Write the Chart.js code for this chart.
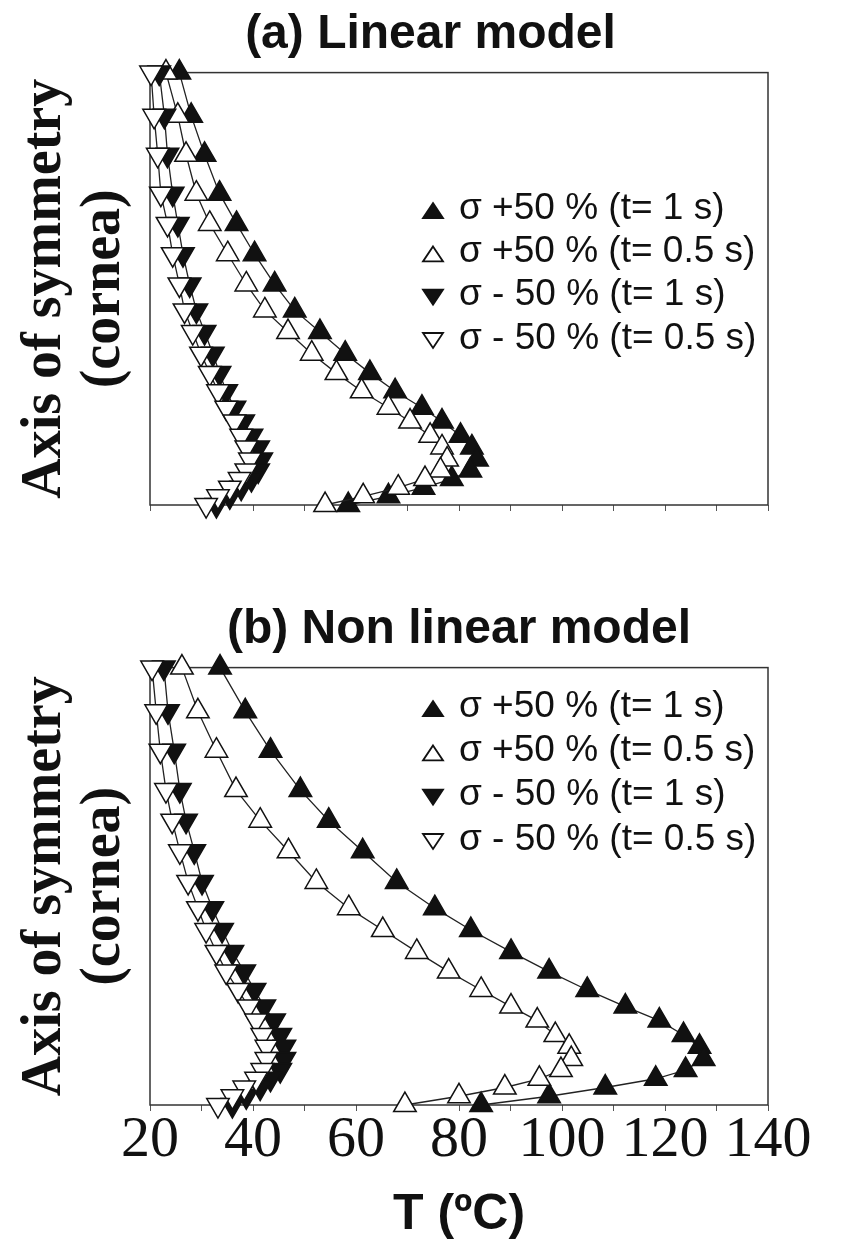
<!DOCTYPE html>
<html>
<head>
<meta charset="utf-8">
<script src="https://cdn.jsdelivr.net/npm/chart.js@4.4.0/dist/chart.umd.min.js"></script>
<style>
  body { margin: 0; background: #fff; }
  #wrap { position: relative; width: 861px; height: 1243px; }
  .panel { position: absolute; left: 0; width: 861px; }
</style>
</head>
<body>
<div id="wrap">
  <div class="panel" style="top:0;height:560px"><canvas id="chartA"></canvas></div>
  <div class="panel" style="top:560px;height:683px"><canvas id="chartB"></canvas></div>
</div>
<script>
// depth along the axis of symmetry (0 = cornea at the top, 1 = bottom of plot)
const depth = [0, 0.10, 0.19, 0.28, 0.35, 0.42, 0.49, 0.55, 0.60, 0.65, 0.695,
  0.737, 0.775, 0.807, 0.84, 0.867, 0.895, 0.92, 0.94, 0.96, 0.98, 1.0];

const seriesLabels = ['σ +50 % (t= 1 s)', 'σ +50 % (t= 0.5 s)', 'σ - 50 % (t= 1 s)', 'σ - 50 % (t= 0.5 s)'];

// (a) linear model, temperature in ºC
const linUp1 = [25.7, 28.0, 30.6, 33.5, 36.8, 40.3, 44.2, 48.1, 53.0, 57.9, 62.7, 67.6, 72.8, 76.7, 80.3, 82.5, 83.5, 82.2, 78.6, 73.1, 66.3, 58.5];
const linUp05 = [23.1, 25.4, 27.0, 29.0, 31.6, 35.1, 38.7, 42.3, 46.8, 51.4, 56.2, 61.1, 66.3, 70.5, 74.4, 76.7, 77.7, 76.4, 73.4, 68.2, 61.4, 54.0];
const linDn1 = [21.8, 22.8, 23.4, 24.4, 25.4, 26.4, 27.7, 29.0, 30.6, 32.2, 33.5, 34.8, 36.4, 38.1, 39.7, 41.0, 41.6, 41.0, 39.7, 37.7, 35.5, 32.9];
const linDn05 = [20.2, 20.8, 21.5, 22.1, 23.4, 24.4, 25.7, 26.7, 28.3, 29.9, 31.6, 33.2, 34.8, 36.4, 37.7, 38.7, 39.4, 38.7, 37.4, 35.5, 33.2, 30.9];

// (b) non linear model
const nlUp1 = [33.6, 38.5, 43.4, 49.2, 54.7, 61.3, 67.9, 75.3, 82.3, 90.1, 97.5, 104.9, 112.3, 118.9, 123.6, 126.7, 127.5, 124.0, 118.2, 108.4, 97.5, 84.3];
const nlUp05 = [26.2, 29.3, 32.9, 36.7, 41.4, 46.9, 52.3, 58.6, 65.2, 71.8, 78.0, 84.3, 90.1, 95.2, 98.7, 101.4, 101.8, 99.8, 95.6, 88.9, 80.0, 69.5];
const nlDn1 = [22.7, 23.5, 24.7, 25.8, 27.0, 28.6, 30.1, 32.1, 34.0, 36.0, 38.3, 40.3, 42.2, 44.1, 45.3, 46.1, 46.1, 45.3, 43.4, 41.4, 38.7, 36.0];
const nlDn05 = [20.4, 21.2, 22.0, 23.1, 24.3, 25.8, 27.4, 29.3, 30.9, 32.9, 34.8, 37.1, 39.1, 40.6, 41.8, 42.6, 42.6, 41.8, 40.6, 38.3, 36.0, 33.2];

const xMin = 20, xMax = 140, xStep = 10, xLabelStep = 20;

const markerFill = ['#111', '#fff', '#111', '#fff'];
const markerRot = [0, 0, 180, 180];

// box around the plot area
const framePlugin = {
  id: 'frame',
  beforeDatasetsDraw(chart) {
    const a = chart.chartArea, ctx = chart.ctx;
    ctx.save();
    ctx.strokeStyle = '#333';
    ctx.lineWidth = 1.5;
    ctx.strokeRect(a.left, a.top, a.right - a.left, a.bottom - a.top);
    ctx.restore();
  }
};

function legendMarker(ctx, x, y, down, fill) {
  const hw = 10, hh = 7.5, s = down ? -1 : 1;
  ctx.beginPath();
  ctx.moveTo(x, y - s * hh);
  ctx.lineTo(x + hw, y + s * hh);
  ctx.lineTo(x - hw, y + s * hh);
  ctx.closePath();
  ctx.fillStyle = fill;
  ctx.fill();
  ctx.lineWidth = 1.8;
  ctx.strokeStyle = '#111';
  ctx.stroke();
}

// legend drawn inside the plot area
const insideLegend = {
  id: 'insideLegend',
  afterDraw(chart, args, o) {
    const ctx = chart.ctx, a = chart.chartArea;
    ctx.save();
    ctx.font = '37px "Liberation Sans", Arial, sans-serif';
    ctx.textBaseline = 'middle';
    chart.data.datasets.forEach((ds, i) => {
      const y = a.top + o.top + i * o.gap;
      legendMarker(ctx, o.markerX, y + 2, markerRot[i] === 180, markerFill[i]);
      ctx.fillStyle = '#111';
      ctx.fillText(ds.label, o.textX, y);
    });
    ctx.restore();
  }
};

function makeDatasets(list) {
  return list.map((vals, i) => ({
    label: seriesLabels[i],
    data: vals.map((v, k) => ({ x: v, y: depth[k] })),
    showLine: true,
    borderColor: '#222',
    borderWidth: 1.3,
    pointStyle: 'triangle',
    rotation: markerRot[i],
    pointRadius: 13,
    pointBackgroundColor: markerFill[i],
    pointBorderColor: '#111',
    pointBorderWidth: 1.5,
    order: 4 - i,
    clip: false
  }));
}

function makeChart(id, data, cfg) {
  return new Chart(document.getElementById(id), {
    type: 'scatter',
    data: { datasets: makeDatasets(data) },
    plugins: [framePlugin, insideLegend],
    options: {
      responsive: true,
      maintainAspectRatio: false,
      animation: false,
      layout: { padding: 0 },
      plugins: {
        legend: { display: false },
        tooltip: { enabled: false },
        title: {
          display: true,
          text: cfg.title,
          fullSize: cfg.fullSize,
          color: '#111',
          font: { family: '"Liberation Sans", Arial, sans-serif', weight: 'bold', size: 48, lineHeight: 1.2 },
          padding: cfg.titlePad
        },
        insideLegend: cfg.legend
      },
      scales: {
        x: {
          type: 'linear',
          min: xMin,
          max: xMax,
          border: { display: false },
          grid: { drawOnChartArea: false, drawTicks: true, tickLength: 6, color: '#555' },
          ticks: {
            display: cfg.showTicks,
            stepSize: xStep,
            autoSkip: false,
            maxRotation: 0,
            minRotation: 0,
            padding: 1,
            color: '#111',
            font: { family: '"Liberation Serif", "Times New Roman", serif', size: 58, lineHeight: 1 },
            callback: v => (v % xLabelStep === 0 ? v : '')
          },
          title: {
            display: cfg.showTicks,
            text: 'T (ºC)',
            color: '#111',
            font: { family: '"Liberation Sans", Arial, sans-serif', weight: 'bold', size: 50, lineHeight: 1 },
            padding: { top: 0, bottom: 3 }
          },
          afterFit: s => { s.height = cfg.xHeight; }
        },
        y: {
          type: 'linear',
          min: 0,
          max: 1,
          reverse: true,
          border: { display: false },
          grid: { display: false },
          ticks: { display: false },
          title: {
            display: true,
            text: ['Axis of symmetry', '(cornea)'],
            color: '#111',
            font: { family: '"Liberation Serif", "Times New Roman", serif', weight: 'bold', size: 56, lineHeight: 1.05 },
            padding: { top: 16, bottom: 0 }
          },
          afterFit: s => { s.width = 150; }
        },
        // empty right-hand margin
        yRight: {
          type: 'linear',
          position: 'right',
          display: true,
          border: { display: false },
          grid: { display: false },
          ticks: { display: false },
          afterFit: s => { s.width = 93; }
        }
      }
    }
  });
}

makeChart('chartA', [linUp1, linUp05, linDn1, linDn05], {
  title: '(a) Linear model',
  fullSize: true,
  titlePad: { top: 6, bottom: 9 },
  legend: { top: 136, gap: 43.3, markerX: 433, textX: 459 },
  showTicks: false,
  xHeight: 55
});

makeChart('chartB', [nlUp1, nlUp05, nlDn1, nlDn05], {
  title: '(b) Non linear model',
  fullSize: false,
  titlePad: { top: 41, bottom: 9 },
  legend: { top: 39, gap: 44.3, markerX: 433, textX: 459 },
  showTicks: true,
  xHeight: 138
});
</script>
</body>
</html>
